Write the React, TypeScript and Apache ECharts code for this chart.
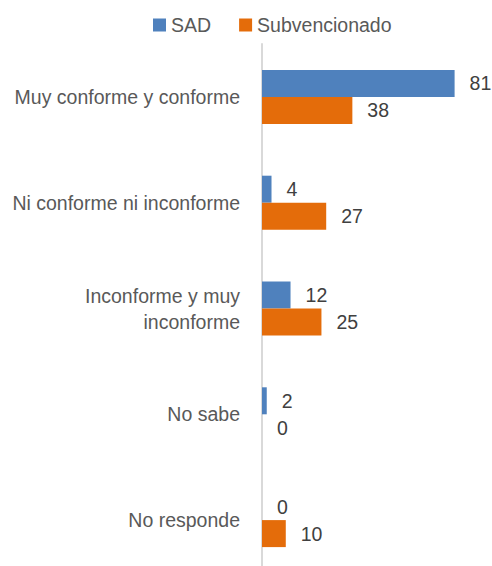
import React, { useEffect, useRef } from "react";
import * as echarts from "echarts";

const categories = [
  "Muy conforme y conforme",
  "Ni conforme ni inconforme",
  "Inconforme y muy\ninconforme",
  "No sabe",
  "No responde",
];
const sadValues = [81, 4, 12, 2, 0];
const subValues = [38, 27, 25, 0, 10];
const seriesNames = ["SAD", "Subvencionado"];

const FONT = "'Liberation Sans', Arial, sans-serif";
const FS = 19.5;

export default function App() {
  const ref = useRef<HTMLDivElement>(null);
  useEffect(() => {
    if (!ref.current) return;
    const chart = echarts.init(ref.current, undefined, { renderer: "svg" });
    const labelCfg = {
      show: true,
      position: "right" as const,
      distance: 15,
      color: "#404040",
      fontSize: FS,
      fontFamily: FONT,
    };
    chart.setOption({
      animation: false,
      textStyle: { fontFamily: FONT },
      legend: {
        top: 10,
        left: 148,
        icon: "rect",
        itemWidth: 13,
        itemHeight: 13,
        itemGap: 28,
        textStyle: { color: "#595959", fontSize: FS, fontFamily: FONT },
        data: seriesNames,
      },
      grid: { left: 262, top: 44, width: 214, height: 529, containLabel: false },
      xAxis: {
        type: "value",
        min: 0,
        max: 90,
        show: false,
      },
      yAxis: {
        type: "category",
        inverse: true,
        data: categories,
        axisTick: { show: false },
        axisLine: { show: true, lineStyle: { color: "#d9d9d9", width: 2 } },
        axisLabel: {
          margin: 22,
          color: "#595959",
          fontSize: FS,
          lineHeight: 26,
          fontFamily: FONT,
          align: "right",
        },
      },
      series: [
        {
          name: seriesNames[0],
          type: "bar",
          data: sadValues,
          barWidth: 27,
          barGap: "0%",
          itemStyle: { color: "#4f81bd" },
          label: labelCfg,
        },
        {
          name: seriesNames[1],
          type: "bar",
          data: subValues,
          barWidth: 27,
          barGap: "0%",
          itemStyle: { color: "#e46c0a" },
          label: labelCfg,
        },
      ],
    });
    return () => chart.dispose();
  }, []);
  return (
    <div
      style={{
        position: "absolute",
        left: 0,
        top: 0,
        width: 492,
        height: 566,
        overflow: "hidden",
        background: "#fff",
      }}
    >
      <div ref={ref} style={{ width: 492, height: 590 }} />
    </div>
  );
}
